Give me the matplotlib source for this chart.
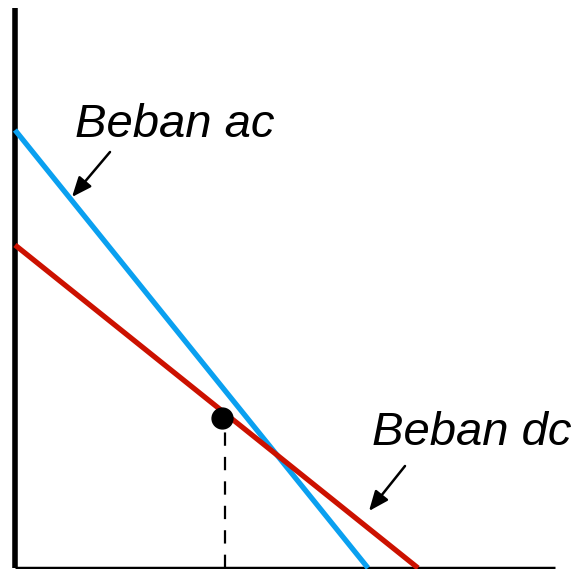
import matplotlib.pyplot as plt

# load line intercepts (axis units)
ac_intercepts = [438, 353]   # y-intercept, x-intercept
dc_intercepts = [323, 403]
q_point = [207, 150]
axis_ends = [540, 560]       # x-axis end, y-axis end
labels = ["Beban ac", "Beban dc"]

fig = plt.figure(figsize=(5.79, 5.69), dpi=100)
ax = fig.add_axes([0, 0, 1, 1])
ax.set_xlim(-15, 564)
ax.set_ylim(-1, 568)
ax.set_axis_off()

# axes
ax.plot([0, 0], [0, axis_ends[1]], color="black", lw=4.0, solid_capstyle="butt")
ax.plot([0, axis_ends[0]], [0, 0], color="black", lw=2.5, solid_capstyle="butt")

# load lines
ax.plot([0, ac_intercepts[1]], [ac_intercepts[0], 0], color="#0aa0f0", lw=3.8,
        solid_capstyle="butt")
ax.plot([0, dc_intercepts[1]], [dc_intercepts[0], 0], color="#cc1100", lw=3.8,
        solid_capstyle="butt")

# Q point + dashed drop line
ax.plot([q_point[0] + 3, q_point[0] + 3], [0, q_point[1]], color="black", lw=1.6,
        dashes=(6, 5))
ax.plot(q_point[0], q_point[1], "o", color="black", markersize=15, zorder=5)

# labels with arrows
arrow = dict(arrowstyle="-|>,head_length=1.2,head_width=0.5", color="black", lw=1.8,
             shrinkA=0, shrinkB=0)
ax.text(160, 431, labels[0], fontsize=34, style="italic", family="Liberation Sans",
        ha="center", va="baseline")
ax.annotate("", xy=(57, 371), xytext=(95, 416), arrowprops=arrow)
ax.text(357, 123, labels[1], fontsize=34, style="italic", family="Liberation Sans",
        ha="left", va="baseline")
ax.annotate("", xy=(354, 57), xytext=(390, 102), arrowprops=arrow)

fig.savefig("out.png", dpi=100)
